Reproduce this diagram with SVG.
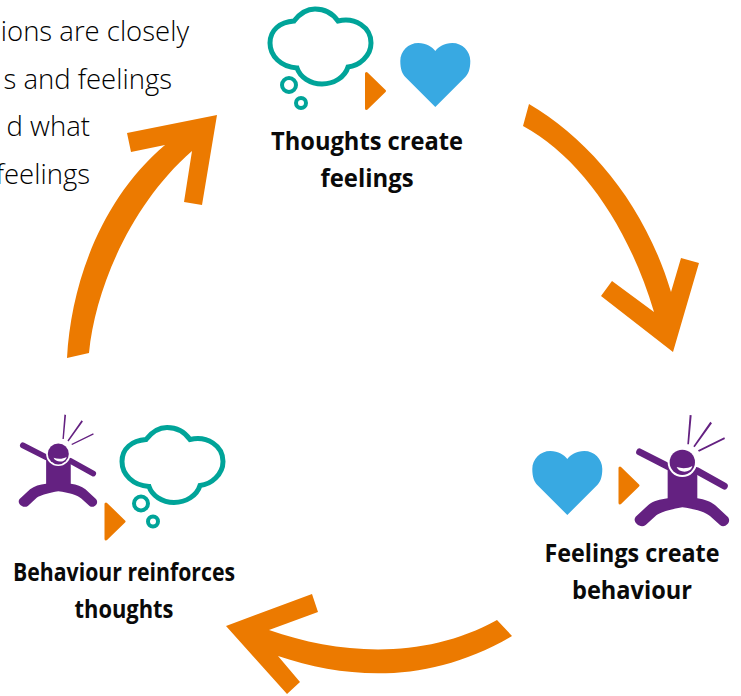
<svg xmlns="http://www.w3.org/2000/svg" width="741" height="696" viewBox="0 0 741 696">
<style>
.body{font-family:"Open Sans","Noto Sans",sans-serif;font-weight:300;font-size:27.500px;fill:#000;text-anchor:end}
.lab{font-family:"Open Sans","Noto Sans",sans-serif;font-weight:700;font-size:25.500px;fill:#0a0a0a;text-anchor:middle}
.arrow{fill:#ec7a00}
.cloud{fill:#fff;stroke:#00a499;stroke-width:5}
.bub{fill:none;stroke:#00a499;stroke-width:4}
.heart{fill:#38a9e2}
.tri{fill:#ec7a00;stroke:#ec7a00;stroke-width:3;stroke-linejoin:round}
.p{fill:#642181}
.pl{fill:none;stroke:#642181;stroke-linecap:round}
</style>
<defs>
<g id="cloud">
<path class="cloud" d="M-23-41C-16-50-8-53-2-53C8-53 16-48 21-41C38-45 54-35 54-19C54-6 42 4 31 5C28 15 17 22 5 22C-7 22-17 15-20 6C-36 5-47-6-47-19C-47-32-37-40-23-41Z"/>
<circle class="bub" cx="-28" cy="23" r="7"/>
<circle class="bub" cx="-16" cy="41" r="5"/>
</g>
<path id="heart" class="heart" d="M0 62L-30 32C-33 29-35 24-35 16C-35 6-27-2-17-2C-9-2-3 2 0 6C3 2 9-2 17-2C27-2 35 6 35 16C35 24 33 29 30 32Z"/>
<path id="tri" class="tri" d="M1.500 1.500V36.500L19.500 19Z"/>
<g id="person">
<path class="pl" stroke-width="21" d="M344 141L430 185M515 197L598 243"/>
<path class="p" d="M428 190L517 190L517 280C540 283 555 290 570 300L608 335C622 350 600 372 585 360L555 333C540 320 510 312 472 307C440 312 410 320 395 330L362 360C345 372 320 350 332 335L370 300C385 288 405 283 428 280Z"/>
<circle cx="472" cy="172" r="44" fill="#fff"/>
<circle class="p" cx="472" cy="172" r="38"/>
<path d="M455 186C470 191 488 191 502 183C498 205 462 205 455 186Z" fill="#fff"/>
<path d="M494 30L500 31L492 118L487 118ZM556 50L561 55L509 127L505 124ZM598 97L600 102L522 140L519 136Z" class="p"/>
</g>
</defs>
<text class="body" x="189" y="41">ions are closely</text>
<text class="body" x="172" y="89">s and feelings</text>
<text class="body" x="90" y="136">d what</text>
<text class="body" x="90" y="184">feelings</text>
<g id="connectors">
<path class="arrow" d="M67 358C71 285 100 200 165 145L131 152L127 133L217 115L202 205L184 202L192 151C130 205 95 290 89 353Z"/>
<path class="arrow" d="M529 104C590 140 645 205 671 292L681 258L699 263L673 352L601 296L612 281L654 312C628 225 580 157 523 126Z"/>
<path class="arrow" d="M226 626L312 594L318 612L269 630C340 655 425 660 497 620L512 636C430 684 350 680 278 656L300 682L287 694Z"/>
</g>
<g id="node-thoughts">
<use href="#cloud" transform="translate(317 62)"/>
<use href="#tri" transform="translate(365 72)"/>
<use href="#heart" transform="translate(435.300 45)"/>
<text class="lab" x="367" y="150" textLength="192" lengthAdjust="spacingAndGlyphs">Thoughts create</text>
<text class="lab" x="367" y="187" textLength="93" lengthAdjust="spacingAndGlyphs">feelings</text>
</g>
<g id="node-feelings">
<use href="#heart" transform="translate(567.300 453)"/>
<use href="#tri" transform="translate(618.500 466.500)"/>
<use href="#person" transform="translate(525 405) scale(.3333)"/>
<text class="lab" x="632" y="562" textLength="175" lengthAdjust="spacingAndGlyphs">Feelings create</text>
<text class="lab" x="632" y="599" textLength="120" lengthAdjust="spacingAndGlyphs">behaviour</text>
</g>
<g id="node-behaviour">
<use href="#person" transform="translate(-72.300 406.300) scale(.2767)"/>
<use href="#cloud" transform="translate(169 480.500)"/>
<use href="#tri" transform="translate(104.500 502.500)"/>
<text class="lab" x="124" y="581" textLength="222" lengthAdjust="spacingAndGlyphs">Behaviour reinforces</text>
<text class="lab" x="124" y="618" textLength="99" lengthAdjust="spacingAndGlyphs">thoughts</text>
</g>
</svg>
